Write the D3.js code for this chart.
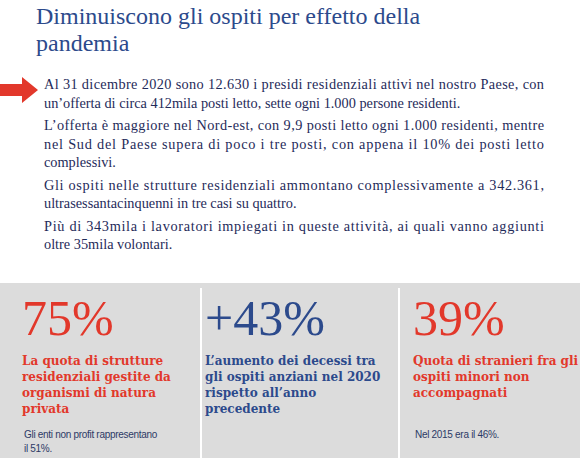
<!DOCTYPE html><html><head><meta charset="utf-8"><script src="https://cdn.jsdelivr.net/npm/d3@7"></script>
<style>body{margin:0;background:#fff}</style></head><body><svg id="c" width="580" height="458"></svg>
<script>
const titleLines=["Diminuiscono gli ospiti per effetto della","pandemia"];
const paragraphs=[
["Al 31 dicembre 2020 sono 12.630 i presidi residenziali attivi nel nostro Paese, con","un’offerta di circa 412mila posti letto, sette ogni 1.000 persone residenti."],
["L’offerta è maggiore nel Nord-est, con 9,9 posti letto ogni 1.000 residenti, mentre","nel Sud del Paese supera di poco i tre posti, con appena il 10% dei posti letto","complessivi."],
["Gli ospiti nelle strutture residenziali ammontano complessivamente a 342.361,","ultrasessantacinquenni in tre casi su quattro."],
["Più di 343mila i lavoratori impiegati in queste attività, ai quali vanno aggiunti","oltre 35mila volontari."]];
const statValues=["75%","+43%","39%"];
const statColors=["#e2382b","#2c4a8c","#e2382b"];
const statLabels=[["La quota di strutture","residenziali gestite da","organismi di natura","privata"],["L’aumento dei decessi tra","gli ospiti anziani nel 2020","rispetto all’anno","precedente"],["Quota di stranieri fra gli","ospiti minori non","accompagnati"]];
const statNotes=[["Gli enti non profit rappresentano","il 51%."],[],["Nel 2015 era il 46%."]];
const svg=d3.select("#c");
const serif="'DejaVu Serif','Liberation Serif',serif";
svg.selectAll("text.t").data(titleLines).join("text").attr("x",36).attr("y",(d,i)=>24+i*27)
 .attr("font-family","'Liberation Serif',serif").attr("font-size",24).attr("fill","#2c4a8c").text(d=>d);
svg.append("path").attr("d","M0,84 L22,84 L22,77 L38,90 L22,103 L22,96 L0,96Z").attr("fill","#e2382b");
let y=89;
paragraphs.forEach(p=>{p.forEach((l,i)=>{svg.append("text").attr("x",44).attr("y",y).attr("font-family","'Liberation Serif',serif")
 .attr("font-size",14.3).attr("fill","#1f2b5a").attr("textLength",i<p.length-1?500:null).text(l);y+=18.5;});y+=4;});
svg.append("rect").attr("x",0).attr("y",283).attr("width",580).attr("height",175).attr("fill","#dcdcdc");
const x=d3.scaleBand().domain(d3.range(3)).range([0,598]);
[200,398].forEach(v=>svg.append("rect").attr("x",v).attr("y",288).attr("width",2).attr("height",170).attr("fill","#fff"));
const xs=[22,205,413];
statValues.forEach((v,i)=>{
 svg.append("text").attr("x",xs[i]).attr("y",335).attr("font-family","'Liberation Serif',serif").attr("font-size",50).attr("fill",statColors[i]).text(v);
 statLabels[i].forEach((l,j)=>svg.append("text").attr("x",xs[i]).attr("y",365+j*16).attr("font-family",serif).attr("font-weight","bold").attr("font-size",12).attr("fill",statColors[i]).text(l));
 statNotes[i].forEach((l,j)=>svg.append("text").attr("x",xs[i]+2).attr("y",438+j*14).attr("font-family","'Liberation Sans',Arial,sans-serif").attr("font-size",10).attr("fill","#2c3a66").attr("letter-spacing",-0.3).text(l));
});
</script></body></html>
